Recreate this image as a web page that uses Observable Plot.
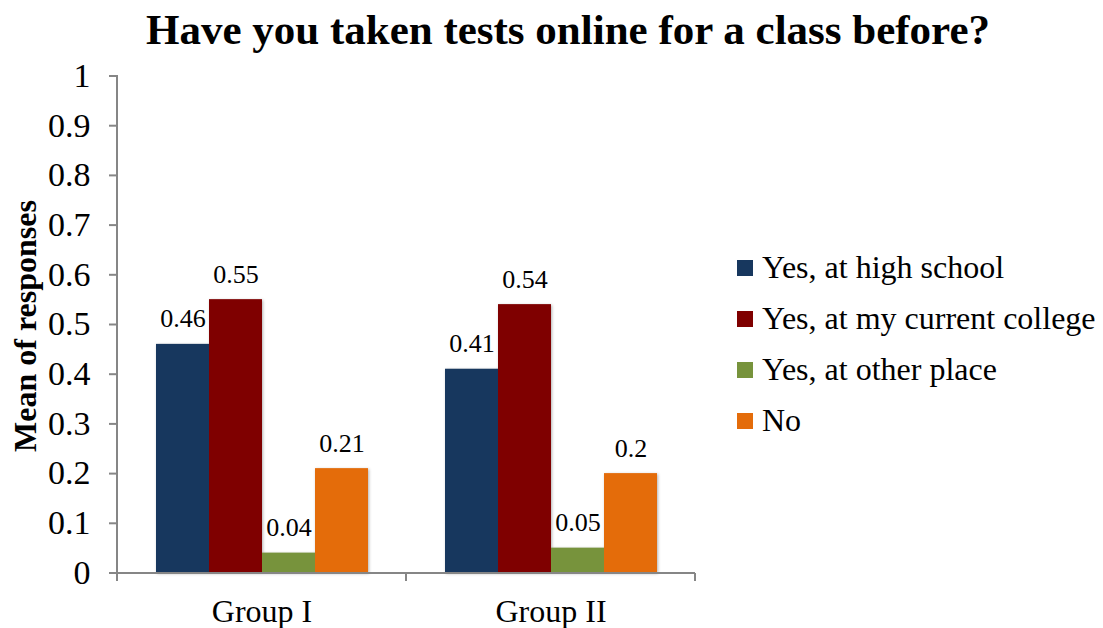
<!DOCTYPE html>
<html>
<head>
<meta charset="utf-8">
<script src="https://cdn.jsdelivr.net/npm/d3@7"></script>
<script src="https://cdn.jsdelivr.net/npm/@observablehq/plot@0.6"></script>
<style>
  body { margin: 0; background: #fff; }
  #wrap { position: relative; width: 1103px; height: 628px; overflow: hidden; font-family: "Liberation Serif", "Times New Roman", serif; }
  #title { position: absolute; top: 8px; left: 0; width: 1103px; box-sizing: border-box; padding-left: 33px; text-align: center; font-size: 43px; line-height: 43px; font-weight: bold; color: #000; white-space: nowrap; }
  #ylabel { position: absolute; left: 25px; top: 326px; width: 400px; margin-left: -200px; height: 36px; line-height: 36px; margin-top: -18px; text-align: center; transform: rotate(-90deg); font-size: 32px; font-weight: bold; color: #000; white-space: nowrap; }
  #chart { position: absolute; left: 0; top: 0; }
  #legend { position: absolute; left: 737px; top: 242px; width: 366px; }
  #legend .lg-swatches { font-family: "Liberation Serif", "Times New Roman", serif !important; font-size: 32px !important; color: #000; margin: 0 !important; min-height: 0 !important; }
  #legend .lg-swatch { height: 51px; padding: 0 !important; display: flex; align-items: center; }
  #legend .lg-swatch svg { margin-right: 9px !important; }
  #legend .lg-swatch-label, #legend .lg-swatch > div { overflow: visible !important; }
</style>
</head>
<body>
<div id="wrap">
  <div id="title">Have you taken tests online for a class before?</div>
  <div id="chart"></div>
  <div id="ylabel"></div>
  <div id="legend"></div>
</div>
<script>
// ---- data ----
const groups = ["Group I", "Group II"];
const series = ["Yes, at high school", "Yes, at my current college", "Yes, at other place", "No"];
const groupI = [0.46, 0.55, 0.04, 0.21];
const groupII = [0.41, 0.54, 0.05, 0.2];
const colors = ["#17375E", "#7F0000", "#77933C", "#E46C0A"];
const yTicks = [0, 0.1, 0.2, 0.3, 0.4, 0.5, 0.6, 0.7, 0.8, 0.9, 1];
const yLabel = "Mean of responses";

document.getElementById("ylabel").textContent = yLabel;

const valuesByGroup = [groupI, groupII];
const rows = [];
groups.forEach((g, gi) => series.forEach((s, si) => rows.push({group: g, series: s, value: valuesByGroup[gi][si]})));

const axisColor = "#868686";
const edges = groups.map(g => ({group: g, base: 0}));

const edgeMark = Plot.ruleY(edges, {
  fx: "group", y: "base", stroke: axisColor, strokeWidth: 2,
  render(index, scales, values, dims, context, next) {
    const g = next(index, scales, values, dims, context);
    const sel = d3.select(g);
    const y0 = scales.y(0);
    const left = dims.marginLeft;
    const right = dims.width - dims.marginRight;
    for (const i of index) {
      for (const x of [left, right]) {
        sel.append("line").attr("x1", x).attr("x2", x).attr("y1", y0).attr("y2", y0 + 8)
          .attr("stroke", axisColor).attr("stroke-width", 2);
      }
      if (edges[i].group === groups[0]) {
        sel.append("line").attr("x1", left).attr("x2", left).attr("y1", scales.y(1) - 1).attr("y2", y0)
          .attr("stroke", axisColor).attr("stroke-width", 2);
      }
    }
    return g;
  }
});

const chart = Plot.plot({
  width: 720,
  height: 628,
  marginTop: 75.5,
  marginBottom: 55.5,
  marginLeft: 117,
  marginRight: 25,
  style: {fontFamily: '"Liberation Serif", "Times New Roman", serif', color: "#000", background: "transparent"},
  fx: {domain: groups, padding: 0, axis: null},
  x: {domain: series, paddingInner: 0, paddingOuter: 0.72, axis: null},
  y: {domain: [0, 1], axis: null},
  color: {domain: series, range: colors},
  marks: [
    Plot.barY(rows, {fx: "group", x: "series", y: "value", fill: "series", imageFilter: "drop-shadow(1.5px 1.5px 1.5px rgba(0,0,0,0.3))"}),
    Plot.text(rows, {fx: "group", x: "series", y: "value", text: d => String(d.value), lineAnchor: "bottom", dy: -17, fontSize: 26, fill: "#000"}),
    Plot.axisY({ticks: yTicks, tickFormat: d => String(d), tickSize: 8, tickPadding: 19, fontSize: 34, stroke: axisColor, strokeWidth: 2, label: null}),
    Plot.axisFx({anchor: "bottom", tickSize: 0, tickPadding: 26, fontSize: 32, label: null}),
    edgeMark
  ]
});
document.getElementById("chart").appendChild(chart);

const legend = Plot.legend({
  color: {domain: series, range: colors},
  legend: "swatches",
  columns: 1,
  swatchSize: 16,
  className: "lg"
});
document.getElementById("legend").appendChild(legend);
</script>
</body>
</html>
